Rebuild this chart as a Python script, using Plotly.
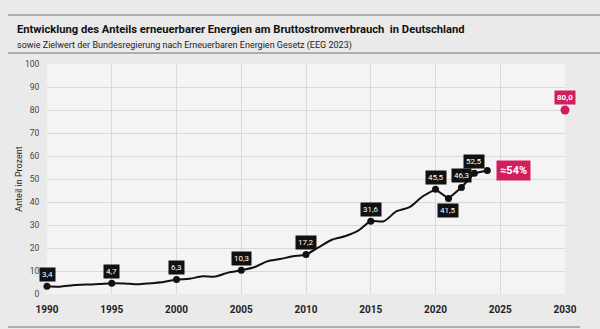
import plotly.graph_objects as go

years = list(range(1990, 2021))
share = [3.4, 3.2, 3.8, 4.1, 4.3, 4.7, 4.6, 4.2, 4.7, 5.2,
         6.3, 6.6, 7.7, 7.6, 9.3, 10.3, 11.6, 14.2, 15.2, 16.4,
         17.2, 20.4, 23.6, 25.1, 27.4, 31.6, 31.6, 36.0, 37.8, 42.4, 45.5]
recent_years = [2020, 2021, 2022, 2023, 2024]
recent_share = [45.5, 41.5, 46.3, 52.5, 53.7]
marked_years = [1990, 1995, 2000, 2005, 2010, 2015, 2020, 2021, 2022, 2023, 2024]
label_years = [1990, 1995, 2000, 2005, 2010, 2015, 2020, 2021, 2022, 2023]
label_texts = ["3,4", "4,7", "6,3", "10,3", "17,2", "31,6", "45,5", "41,5", "46,3", "52,5"]
label_below = [2021]
estimate_text = "≈54%"
target_year = 2030
target_value = 80.0
target_text = "80,0"
x_ticks = [1990, 1995, 2000, 2005, 2010, 2015, 2020, 2025, 2030]
y_ticks = [0, 10, 20, 30, 40, 50, 60, 70, 80, 90, 100]

title = "Entwicklung des Anteils erneuerbarer Energien am Bruttostromverbrauch  in Deutschland"
subtitle = "sowie Zielwert der Bundesregierung nach Erneuerbaren Energien Gesetz (EEG 2023)"
y_title = "Anteil in Prozent"

PINK = "#d11f5e"
FONT = "Roboto, sans-serif"
BG = "#eaeaea"

lookup = dict(zip(years, share))
lookup.update(dict(zip(recent_years, recent_share)))

fig = go.Figure()
fig.add_trace(go.Scatter(x=years, y=share, mode="lines",
                         line=dict(color="#111111", width=2, shape="spline", smoothing=0.8),
                         hoverinfo="skip", showlegend=False))
fig.add_trace(go.Scatter(x=recent_years, y=recent_share, mode="lines",
                         line=dict(color="#111111", width=2),
                         hoverinfo="skip", showlegend=False))
fig.add_trace(go.Scatter(x=marked_years, y=[lookup[y] for y in marked_years], mode="markers",
                         marker=dict(color="#111111", size=7),
                         hoverinfo="skip", showlegend=False, cliponaxis=False))
fig.add_trace(go.Scatter(x=[target_year], y=[target_value], mode="markers",
                         marker=dict(color=PINK, size=9),
                         hoverinfo="skip", showlegend=False, cliponaxis=False))

for yr, txt in zip(label_years, label_texts):
    below = yr in label_below
    fig.add_annotation(x=yr, y=lookup[yr], text=txt, showarrow=False,
                       yshift=-12 if below else 12,
                       bgcolor="#111111", borderpad=2,
                       font=dict(color="white", size=8, family=FONT))

fig.add_annotation(x=recent_years[-1], y=recent_share[-1], text="<b>" + estimate_text + "</b>",
                   showarrow=False, xshift=26, bgcolor=PINK, borderpad=3,
                   font=dict(color="white", size=11, family=FONT))
fig.add_annotation(x=target_year, y=target_value, text="<b>" + target_text + "</b>",
                   showarrow=False, yshift=13, bgcolor=PINK, borderpad=2,
                   font=dict(color="white", size=8, family=FONT))

PLOT_H = 329 - 64 - 35
PLOT_W = 600 - 47 - 35


def py(pix):
    return (329 - 35 - pix) / PLOT_H


def px(pix):
    return (pix - 47) / PLOT_W


# title and rules
fig.add_annotation(xref="paper", yref="paper", x=px(15), y=py(29), xanchor="left", yanchor="middle",
                   text="<b>" + title + "</b>", showarrow=False,
                   font=dict(size=11.2, color="#111111", family=FONT))
fig.add_annotation(xref="paper", yref="paper", x=px(15), y=py(45), xanchor="left", yanchor="middle",
                   text=subtitle, showarrow=False,
                   font=dict(size=9, color="#222222", family=FONT))
for yp, xr in [(15, 600), (53, 600), (327, 580)]:
    fig.add_shape(type="line", xref="paper", yref="paper",
                  x0=px(8), x1=px(xr), y0=py(yp), y1=py(yp),
                  line=dict(color="#9a9a9a", width=1.5))

fig.update_layout(
    width=600, height=329,
    margin=dict(l=47, r=35, t=64, b=35),
    paper_bgcolor=BG, plot_bgcolor="#f4f4f4",
    font=dict(family=FONT, color="#333333"),
    xaxis=dict(range=[1990, 2030], tickvals=x_ticks,
               ticktext=["<b>%d</b>" % t for t in x_ticks],
               showgrid=True, gridcolor="#d9d9d9", gridwidth=1, zeroline=False,
               tickfont=dict(size=10, color="#222222"),
               ticks="outside", ticklen=6, tickcolor=BG, showline=False),
    yaxis=dict(range=[0, 100], tickvals=y_ticks, showgrid=True, gridcolor="#d9d9d9",
               gridwidth=1, zeroline=False, tickfont=dict(size=8.5, color="#444444"),
               title=dict(text=y_title, font=dict(size=9, color="#222222"), standoff=0),
               ticks="outside", ticklen=5, tickcolor=BG, showline=False),
)

fig.write_html("out.html")
